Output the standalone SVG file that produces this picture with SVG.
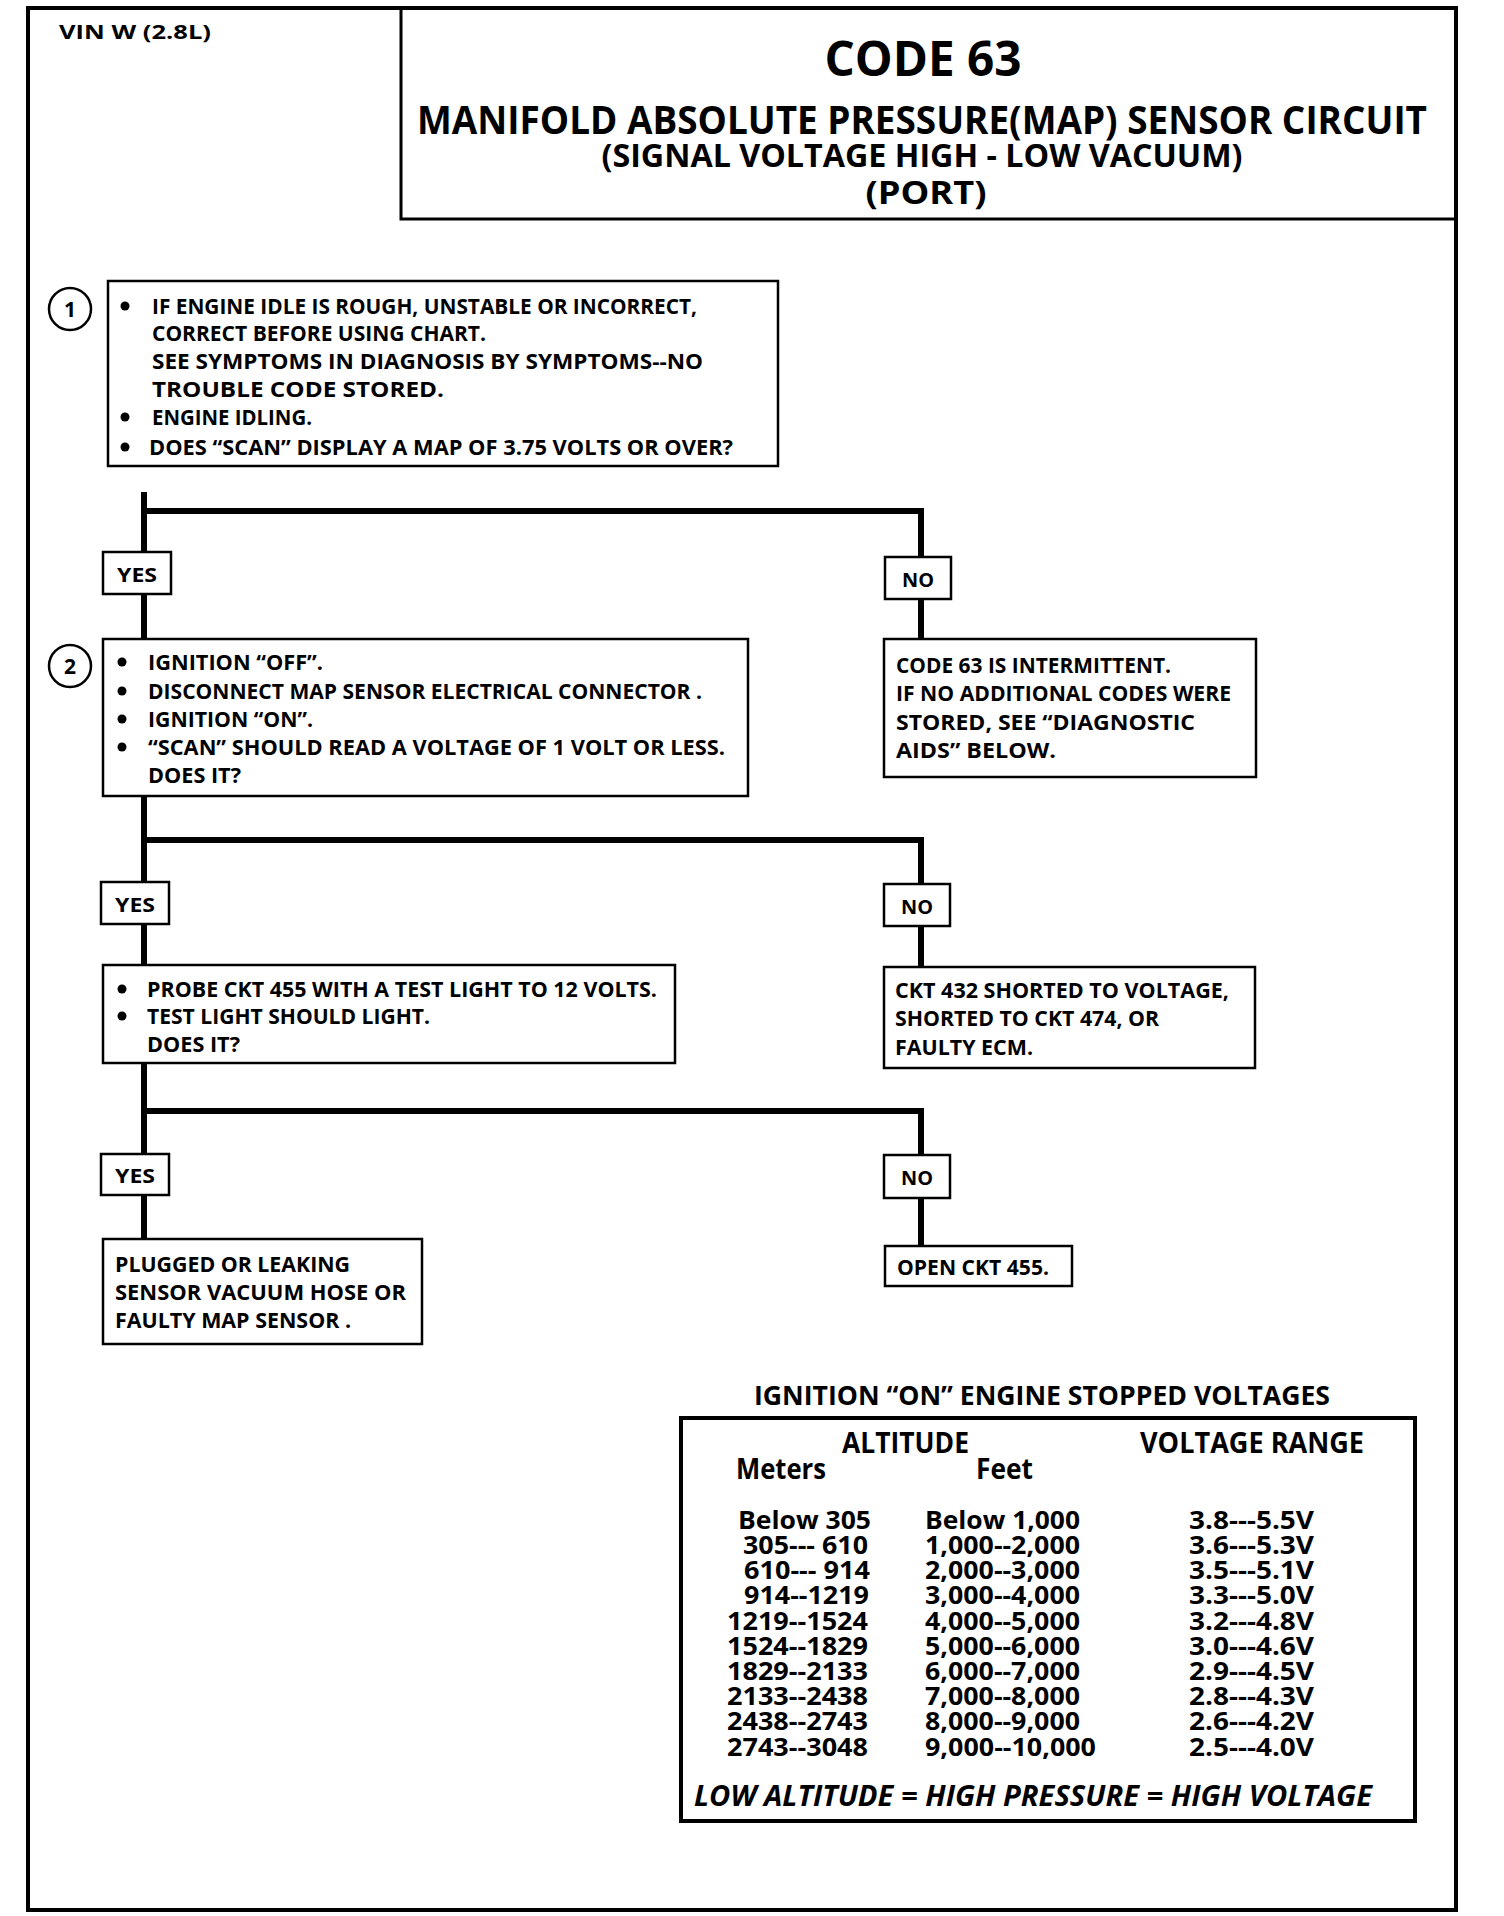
<svg xmlns="http://www.w3.org/2000/svg" width="1504" height="1916" viewBox="0 0 1504 1916">
<style>
.t{font-family:"Open Sans","Noto Sans","Liberation Sans",sans-serif;font-weight:bold;fill:#000}
.b{font-size:22px}
.lbl{font-size:20px}
.row{font-size:25px}
.hdr{font-size:28px}
.box{fill:#fff;stroke:#000;stroke-width:2.5}
.con{fill:none;stroke:#000;stroke-width:6;stroke-linecap:butt;stroke-linejoin:miter}
.num{fill:#fff;stroke:#000;stroke-width:2.5}
</style>
<rect width="1504" height="1916" fill="#fff"/>
<g id="page">
<rect x="28" y="8" width="1428" height="1902" fill="none" stroke="#000" stroke-width="4"/>
<text class="t" x="59" y="39" font-size="19" textLength="152" lengthAdjust="spacingAndGlyphs">VIN W (2.8L)</text>
</g>
<g id="title">
<path d="M401,8 V219 H1456" fill="none" stroke="#000" stroke-width="3"/>
<text class="t" x="923" y="76" font-size="48" text-anchor="middle" textLength="197" lengthAdjust="spacingAndGlyphs">CODE 63</text>
<text class="t" x="922" y="134" font-size="39" text-anchor="middle" textLength="1010" lengthAdjust="spacingAndGlyphs">MANIFOLD ABSOLUTE PRESSURE(MAP) SENSOR CIRCUIT</text>
<text class="t" x="922" y="167" font-size="32" text-anchor="middle" textLength="641" lengthAdjust="spacingAndGlyphs">(SIGNAL VOLTAGE HIGH - LOW VACUUM)</text>
<text class="t" x="926" y="204" font-size="32" text-anchor="middle" textLength="121" lengthAdjust="spacingAndGlyphs">(PORT)</text>
</g>
<g id="connectors">
<path class="con" d="M144,492 V552"/>
<path class="con" d="M144,511 H921 V557"/>
<path class="con" d="M144,594 V639"/>
<path class="con" d="M921,599 V639"/>
<path class="con" d="M144,796 V882"/>
<path class="con" d="M144,840 H921 V884"/>
<path class="con" d="M144,924 V965"/>
<path class="con" d="M921,926 V967"/>
<path class="con" d="M144,1063 V1154"/>
<path class="con" d="M144,1111 H921 V1155"/>
<path class="con" d="M144,1195 V1239"/>
<path class="con" d="M921,1198 V1246"/>
</g>
<g id="step1">
<circle class="num" cx="70" cy="309" r="21"/>
<text class="t" x="70" y="317" font-size="21" text-anchor="middle">1</text>
</g>
<g id="box1">
<rect class="box" x="108" y="281" width="670" height="185"/>
<circle cx="125" cy="306" r="4.5"/>
<circle cx="125" cy="417" r="4.5"/>
<circle cx="125" cy="447" r="4.5"/>
<text class="t b" x="152" y="314" textLength="545" lengthAdjust="spacingAndGlyphs">IF ENGINE IDLE IS ROUGH, UNSTABLE OR INCORRECT,</text>
<text class="t b" x="152" y="341" textLength="334" lengthAdjust="spacingAndGlyphs">CORRECT BEFORE USING CHART.</text>
<text class="t b" x="152" y="369" textLength="551" lengthAdjust="spacingAndGlyphs">SEE SYMPTOMS IN  DIAGNOSIS BY SYMPTOMS--NO</text>
<text class="t b" x="152" y="397" textLength="292" lengthAdjust="spacingAndGlyphs">TROUBLE   CODE STORED.</text>
<text class="t b" x="152" y="425" textLength="160" lengthAdjust="spacingAndGlyphs">ENGINE IDLING.</text>
<text class="t b" x="149" y="455" textLength="584" lengthAdjust="spacingAndGlyphs">DOES “SCAN” DISPLAY A MAP OF 3.75  VOLTS OR OVER?</text>
</g>
<g id="yes1">
<rect class="box" x="103" y="552" width="68" height="42"/>
<text class="t lbl" x="137" y="582" text-anchor="middle" textLength="40" lengthAdjust="spacingAndGlyphs">YES</text>
</g>
<g id="no1">
<rect class="box" x="885" y="557" width="66" height="42"/>
<text class="t lbl" x="918" y="587" text-anchor="middle" textLength="32" lengthAdjust="spacingAndGlyphs">NO</text>
</g>
<g id="result1">
<rect class="box" x="884" y="639" width="372" height="138"/>
<text class="t b" x="896" y="673" textLength="275" lengthAdjust="spacingAndGlyphs">CODE 63 IS INTERMITTENT.</text>
<text class="t b" x="896" y="701" textLength="335" lengthAdjust="spacingAndGlyphs">IF NO ADDITIONAL CODES WERE</text>
<text class="t b" x="896" y="730" textLength="299" lengthAdjust="spacingAndGlyphs">STORED,  SEE  “DIAGNOSTIC</text>
<text class="t b" x="896" y="758" textLength="160" lengthAdjust="spacingAndGlyphs">AIDS”  BELOW.</text>
</g>
<g id="step2">
<circle class="num" cx="70" cy="666" r="21"/>
<text class="t" x="70" y="674" font-size="21" text-anchor="middle">2</text>
</g>
<g id="box2">
<rect class="box" x="103" y="639" width="645" height="157"/>
<circle cx="122" cy="662" r="4.5"/>
<circle cx="122" cy="691" r="4.5"/>
<circle cx="122" cy="719" r="4.5"/>
<circle cx="122" cy="747" r="4.5"/>
<text class="t b" x="148" y="670" textLength="175" lengthAdjust="spacingAndGlyphs">IGNITION “OFF”.</text>
<text class="t b" x="148" y="699" textLength="554" lengthAdjust="spacingAndGlyphs">DISCONNECT MAP SENSOR ELECTRICAL CONNECTOR .</text>
<text class="t b" x="148" y="727" textLength="165" lengthAdjust="spacingAndGlyphs">IGNITION “ON”.</text>
<text class="t b" x="148" y="755" textLength="577" lengthAdjust="spacingAndGlyphs">“SCAN” SHOULD READ  A VOLTAGE OF 1 VOLT OR LESS.</text>
<text class="t b" x="148" y="783" textLength="93" lengthAdjust="spacingAndGlyphs">DOES IT?</text>
</g>
<g id="yes2">
<rect class="box" x="101" y="882" width="68" height="42"/>
<text class="t lbl" x="135" y="912" text-anchor="middle" textLength="40" lengthAdjust="spacingAndGlyphs">YES</text>
</g>
<g id="no2">
<rect class="box" x="884" y="884" width="66" height="42"/>
<text class="t lbl" x="917" y="914" text-anchor="middle" textLength="32" lengthAdjust="spacingAndGlyphs">NO</text>
</g>
<g id="result2">
<rect class="box" x="884" y="967" width="371" height="101"/>
<text class="t b" x="895" y="998" textLength="334" lengthAdjust="spacingAndGlyphs">CKT 432 SHORTED TO VOLTAGE,</text>
<text class="t b" x="895" y="1026" textLength="264" lengthAdjust="spacingAndGlyphs">SHORTED TO CKT 474, OR</text>
<text class="t b" x="895" y="1055" textLength="138" lengthAdjust="spacingAndGlyphs">FAULTY ECM.</text>
</g>
<g id="box3">
<rect class="box" x="103" y="965" width="572" height="98"/>
<circle cx="122" cy="989" r="4.5"/>
<circle cx="122" cy="1016" r="4.5"/>
<text class="t b" x="147" y="997" textLength="510" lengthAdjust="spacingAndGlyphs">PROBE CKT 455 WITH A TEST LIGHT TO 12  VOLTS.</text>
<text class="t b" x="147" y="1024" textLength="283" lengthAdjust="spacingAndGlyphs">TEST LIGHT SHOULD LIGHT.</text>
<text class="t b" x="147" y="1052" textLength="93" lengthAdjust="spacingAndGlyphs">DOES IT?</text>
</g>
<g id="yes3">
<rect class="box" x="101" y="1154" width="68" height="41"/>
<text class="t lbl" x="135" y="1183" text-anchor="middle" textLength="40" lengthAdjust="spacingAndGlyphs">YES</text>
</g>
<g id="no3">
<rect class="box" x="884" y="1155" width="66" height="43"/>
<text class="t lbl" x="917" y="1185" text-anchor="middle" textLength="32" lengthAdjust="spacingAndGlyphs">NO</text>
</g>
<g id="result3">
<rect class="box" x="103" y="1239" width="319" height="105"/>
<text class="t b" x="115" y="1272" textLength="235" lengthAdjust="spacingAndGlyphs">PLUGGED OR LEAKING</text>
<text class="t b" x="115" y="1300" textLength="291" lengthAdjust="spacingAndGlyphs">SENSOR  VACUUM HOSE OR</text>
<text class="t b" x="115" y="1328" textLength="236" lengthAdjust="spacingAndGlyphs">FAULTY MAP SENSOR .</text>
</g>
<g id="result4">
<rect class="box" x="885" y="1246" width="187" height="40"/>
<text class="t b" x="897" y="1275" textLength="152" lengthAdjust="spacingAndGlyphs">OPEN CKT 455.</text>
</g>
<g id="table">
<text class="t" x="754" y="1405" font-size="27" textLength="576" lengthAdjust="spacingAndGlyphs">IGNITION “ON” ENGINE STOPPED VOLTAGES</text>
<rect x="681" y="1418" width="734" height="403" fill="#fff" stroke="#000" stroke-width="4"/>
<text class="t hdr" x="842" y="1453" textLength="127" lengthAdjust="spacingAndGlyphs">ALTITUDE</text>
<text class="t hdr" x="1140" y="1453" textLength="224" lengthAdjust="spacingAndGlyphs">VOLTAGE RANGE</text>
<text class="t hdr" x="736" y="1479" textLength="90" lengthAdjust="spacingAndGlyphs">Meters</text>
<text class="t hdr" x="976" y="1479" textLength="57" lengthAdjust="spacingAndGlyphs">Feet</text>
<g class="t row" text-anchor="end">
<text x="871" y="1529" textLength="133" lengthAdjust="spacingAndGlyphs">Below 305</text>
<text x="868" y="1554" textLength="125" lengthAdjust="spacingAndGlyphs">305--- 610</text>
<text x="870" y="1579" textLength="126" lengthAdjust="spacingAndGlyphs">610--- 914</text>
<text x="869" y="1604" textLength="125" lengthAdjust="spacingAndGlyphs">914--1219</text>
<text x="868" y="1630" textLength="141" lengthAdjust="spacingAndGlyphs">1219--1524</text>
<text x="868" y="1655" textLength="141" lengthAdjust="spacingAndGlyphs">1524--1829</text>
<text x="868" y="1680" textLength="141" lengthAdjust="spacingAndGlyphs">1829--2133</text>
<text x="868" y="1705" textLength="141" lengthAdjust="spacingAndGlyphs">2133--2438</text>
<text x="868" y="1730" textLength="141" lengthAdjust="spacingAndGlyphs">2438--2743</text>
<text x="868" y="1756" textLength="141" lengthAdjust="spacingAndGlyphs">2743--3048</text>
</g>
<g class="t row">
<text x="925" y="1529" textLength="155" lengthAdjust="spacingAndGlyphs">Below 1,000</text>
<text x="925" y="1554" textLength="155" lengthAdjust="spacingAndGlyphs">1,000--2,000</text>
<text x="925" y="1579" textLength="155" lengthAdjust="spacingAndGlyphs">2,000--3,000</text>
<text x="925" y="1604" textLength="155" lengthAdjust="spacingAndGlyphs">3,000--4,000</text>
<text x="925" y="1630" textLength="155" lengthAdjust="spacingAndGlyphs">4,000--5,000</text>
<text x="925" y="1655" textLength="155" lengthAdjust="spacingAndGlyphs">5,000--6,000</text>
<text x="925" y="1680" textLength="155" lengthAdjust="spacingAndGlyphs">6,000--7,000</text>
<text x="925" y="1705" textLength="155" lengthAdjust="spacingAndGlyphs">7,000--8,000</text>
<text x="925" y="1730" textLength="155" lengthAdjust="spacingAndGlyphs">8,000--9,000</text>
<text x="925" y="1756" textLength="171" lengthAdjust="spacingAndGlyphs">9,000--10,000</text>
</g>
<g class="t row">
<text x="1189" y="1529" textLength="125" lengthAdjust="spacingAndGlyphs">3.8---5.5V</text>
<text x="1189" y="1554" textLength="125" lengthAdjust="spacingAndGlyphs">3.6---5.3V</text>
<text x="1189" y="1579" textLength="125" lengthAdjust="spacingAndGlyphs">3.5---5.1V</text>
<text x="1189" y="1604" textLength="125" lengthAdjust="spacingAndGlyphs">3.3---5.0V</text>
<text x="1189" y="1630" textLength="125" lengthAdjust="spacingAndGlyphs">3.2---4.8V</text>
<text x="1189" y="1655" textLength="125" lengthAdjust="spacingAndGlyphs">3.0---4.6V</text>
<text x="1189" y="1680" textLength="125" lengthAdjust="spacingAndGlyphs">2.9---4.5V</text>
<text x="1189" y="1705" textLength="125" lengthAdjust="spacingAndGlyphs">2.8---4.3V</text>
<text x="1189" y="1730" textLength="125" lengthAdjust="spacingAndGlyphs">2.6---4.2V</text>
<text x="1189" y="1756" textLength="125" lengthAdjust="spacingAndGlyphs">2.5---4.0V</text>
</g>
<text class="t" x="694" y="1806" font-size="28" font-weight="normal" font-style="italic" textLength="678" lengthAdjust="spacingAndGlyphs">LOW ALTITUDE  =  HIGH PRESSURE  =  HIGH VOLTAGE</text>
</g>
</svg>
